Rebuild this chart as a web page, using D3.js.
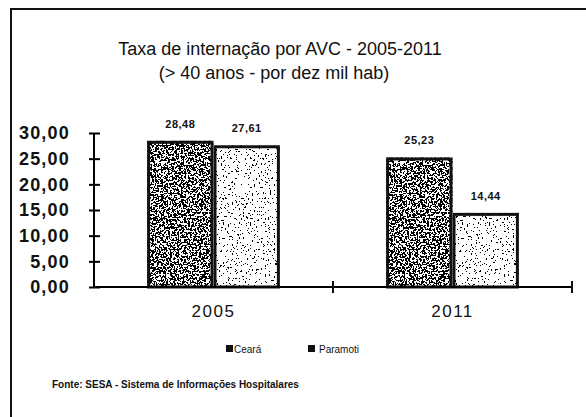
<!DOCTYPE html>
<html>
<head>
<meta charset="utf-8">
<script src="https://cdn.jsdelivr.net/npm/d3@7"></script>
<style>
  body { margin: 0; background: #fff; }
  svg { display: block; }
  text { font-family: "Liberation Sans", Arial, sans-serif; fill: #111; }
</style>
</head>
<body>
<div id="chart"></div>
<script>
var anos = ['2005', '2011'];
var series = ['Ceará', 'Paramoti'];
var ceara = [28.48, 25.23];
var paramoti = [27.61, 14.44];
var yTicks = [0, 5, 10, 15, 20, 25, 30];

var width = 586,
    height = 417;

var svg = d3.select('#chart')
  .append('svg')
  .attr('width', width)
  .attr('height', height);

// speckle filters (scanned look)
var defs = svg.append('defs');
function speckle(id, freq, table, seed) {
  var f = defs.append('filter').attr('id', id)
    .attr('x', 0).attr('y', 0).attr('width', 1).attr('height', 1);
  f.append('feTurbulence').attr('type', 'fractalNoise')
    .attr('baseFrequency', freq).attr('numOctaves', 2).attr('seed', seed).attr('result', 'n');
  f.append('feColorMatrix').attr('in', 'n').attr('type', 'matrix')
    .attr('values', '0 0 0 0 0  0 0 0 0 0  0 0 0 0 0  1 0 0 0 0').attr('result', 'a');
  f.append('feComponentTransfer').attr('in', 'a').attr('result', 't')
    .append('feFuncA').attr('type', 'discrete').attr('tableValues', table);
  f.append('feComposite').attr('in', 't').attr('in2', 'SourceGraphic').attr('operator', 'in');
}
speckle('sp0', 0.55, '0 0 0 0 0 1 1 1 1 1', 4);
speckle('sp1', 0.55, '0 0 0 0 0 0 0 0 1 1 1 1', 9);

// frame
svg.append('path')
  .attr('d', 'M11,' + height + 'V9H' + width)
  .attr('fill', 'none').attr('stroke', '#111').attr('stroke-width', 2);

// title
svg.append('text').attr('x', 280).attr('y', 55).attr('text-anchor', 'middle')
  .style('font-size', '18px').text('Taxa de internação por AVC - 2005-2011');
svg.append('text').attr('x', 274).attr('y', 79).attr('text-anchor', 'middle')
  .style('font-size', '18px').text('(> 40 anos - por dez mil hab)');

var pLeft = 94, pRight = 572, pTop = 133, pBottom = 287;

var x0 = d3.scaleBand().domain(anos).range([pLeft, pRight]).padding(0);
var x1 = d3.scaleBand().domain(series).range([0, x0.bandwidth()]).paddingInner(0).paddingOuter(0.8);
var y = d3.scaleLinear().domain([0, 30]).range([pBottom, pTop]);

var rows = anos.map(function(a, i) {
  return { ano: a, vals: [
    { s: series[0], v: ceara[i], k: 0 },
    { s: series[1], v: paramoti[i], k: 1 }
  ] };
});

var g = svg.selectAll('.grupo').data(rows).enter().append('g')
  .attr('class', 'grupo')
  .attr('transform', function(d) { return 'translate(' + x0(d.ano) + ',0)'; });

var bars = g.selectAll('.bar').data(function(d) { return d.vals; }).enter().append('g').attr('class', 'bar');
bars.append('rect')
  .attr('x', function(d) { return x1(d.s); })
  .attr('y', function(d) { return y(d.v); })
  .attr('width', x1.bandwidth())
  .attr('height', function(d) { return y(0) - y(d.v); })
  .attr('fill', '#fff');
bars.append('rect')
  .attr('x', function(d) { return x1(d.s); })
  .attr('y', function(d) { return y(d.v); })
  .attr('width', x1.bandwidth())
  .attr('height', function(d) { return y(0) - y(d.v); })
  .attr('fill', '#111')
  .attr('filter', function(d) { return 'url(#sp' + d.k + ')'; });
bars.append('rect')
  .attr('x', function(d) { return x1(d.s) + 1.5; })
  .attr('y', function(d) { return y(d.v) + 1.5; })
  .attr('width', x1.bandwidth() - 3)
  .attr('height', function(d) { return y(0) - y(d.v) - 1.5; })
  .attr('fill', 'none').attr('stroke', '#111').attr('stroke-width', 3);

bars.append('text')
  .attr('x', function(d) { return x1(d.s) + x1.bandwidth() / 2; })
  .attr('y', function(d) { return y(d.v) - 13; })
  .attr('text-anchor', 'middle')
  .style('font-size', '11px').style('font-weight', 'bold').style('letter-spacing', '0.5px')
  .text(function(d) { return d3.format('.2f')(d.v).replace('.', ','); });

// y axis
var yAxis = svg.append('g').attr('transform', 'translate(' + pLeft + ',0)')
  .call(d3.axisLeft(y).tickValues(yTicks).tickSize(5).tickPadding(19)
    .tickFormat(function(d) { return d3.format('.2f')(d).replace('.', ','); }));
yAxis.select('.domain').attr('d', 'M0,' + pTop + 'V' + pBottom).attr('stroke-width', 2);
yAxis.selectAll('.tick line').attr('x1', 6).attr('stroke-width', 2);
yAxis.selectAll('.tick text').style('font-size', '18px').style('letter-spacing', '1.2px')
  .style('font-family', '"Liberation Sans", Arial, sans-serif').style('font-weight', 'bold').attr('fill', '#111');

// x axis
var xAxis = svg.append('g').attr('transform', 'translate(0,' + pBottom + ')')
  .call(d3.axisBottom(x0).tickSize(0).tickPadding(18));
xAxis.select('.domain').attr('d', 'M' + pLeft + ',0H' + pRight).attr('stroke-width', 2);
xAxis.selectAll('.tick text').style('font-size', '17px').style('letter-spacing', '1.5px')
  .style('font-family', '"Liberation Sans", Arial, sans-serif').attr('fill', '#111');
xAxis.selectAll('.bound').data(anos).enter().append('line')
  .attr('x1', function(d) { return x0(d) + x0.bandwidth(); })
  .attr('x2', function(d) { return x0(d) + x0.bandwidth(); })
  .attr('y1', -6).attr('y2', 6)
  .attr('stroke', '#111').attr('stroke-width', 2);

// legend
var legX = [226, 308];
var leg = svg.selectAll('.leg').data(series).enter().append('g').attr('class', 'leg')
  .attr('transform', function(d, i) { return 'translate(' + legX[i] + ',349)'; });
leg.append('rect').attr('x', 0).attr('y', -4).attr('width', 7).attr('height', 7).attr('fill', '#111');
leg.append('text').attr('x', function(d, i) { return i ? 11 : 8; }).attr('y', 3.5)
  .style('font-size', '10px').text(function(d) { return d; });

// fonte
svg.append('text').attr('x', 52).attr('y', 388)
  .style('font-size', '10px').style('font-weight', 'bold')
  .text('Fonte: SESA - Sistema de Informações Hospitalares');
</script>
</body>
</html>
